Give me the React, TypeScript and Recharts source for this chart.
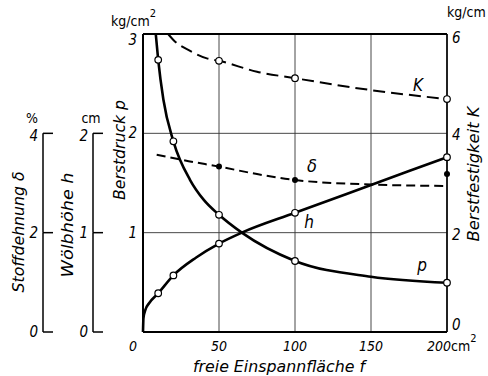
// @ts-nocheck
import React from 'react';
import { LineChart, Line, XAxis, YAxis, CartesianGrid, ReferenceLine } from 'recharts';

const W = 488;
const H = 376;
const TOP = 34;
const XAXIS_H = 44;
const PLOT_H = H - TOP - XAXIS_H;
const STEP = PLOT_H / 3;
const FONT = '"DejaVu Sans Condensed", "Liberation Sans Narrow", "DejaVu Sans", sans-serif';

// axis ids sort inner -> outer on the left side
const P_AX = 'a_p';
const H_AX = 'b_h';
const D_AX = 'c_d';
const K_AX = 'k';

const F_TICKS = [0, 50, 100, 150, 200];
const P_TICKS = [0, 1, 2, 3];
const K_TICKS = [0, 2, 4, 6];
const H_TICKS = [0, 1, 2];
const D_TICKS = [0, 2, 4];

// Berstdruck p, kg/cm²
const pF = [8.4, 10, 13.4, 20, 31, 40, 50, 65, 100, 150, 200];
const pV = [3.0, 2.74, 2.34, 1.92, 1.53, 1.33, 1.18, 1.0, 0.715, 0.557, 0.496];
const pMarks = [10, 20, 50, 100, 200];

// Wölbhöhe h, cm
const hF = [0, 0.3, 1.5, 4, 10, 20, 35, 50, 65, 100, 150, 200];
const hV = [0, 0.14, 0.22, 0.29, 0.39, 0.57, 0.75, 0.89, 1.0, 1.2, 1.48, 1.76];
const hMarks = [10, 20, 50, 100, 200];

// Stoffdehnung δ, %
const dF = [9, 30, 50, 75, 100, 150, 200];
const dV = [3.57, 3.44, 3.33, 3.18, 3.06, 2.97, 2.94];
const dMarks = [50, 100];
const dExtraF = [200];
const dExtraV = [3.18];

// Berstfestigkeit K, kg/cm
const kF = [16.5, 20, 31, 42, 50, 75, 100, 150, 200];
const kV = [6.0, 5.88, 5.66, 5.51, 5.46, 5.24, 5.11, 4.87, 4.69];
const kMarks = [50, 100, 200];

const rows = (fs, vs) => fs.map((f, i) => ({ f, v: vs[i] }));

const openDot = (marks) => (props) => {
  const { cx, cy, payload, index } = props;
  if (!marks.includes(payload.f)) return <g key={index} />;
  return <circle key={index} cx={cx} cy={cy} r={3.3} fill="#fff" stroke="#000" strokeWidth={1.2} />;
};

const fullDot = (marks) => (props) => {
  const { cx, cy, payload, index } = props;
  if (marks && !marks.includes(payload.f)) return <g key={index} />;
  return <circle key={index} cx={cx} cy={cy} r={3} fill="#000" stroke="none" />;
};

const num = { fontFamily: FONT, fontStyle: 'italic', fontSize: 15, fill: '#000' };
const unit = { fontFamily: FONT, fontSize: 14, fill: '#000' };

function PTick({ x, y, payload }) {
  const v = payload.value;
  if (v === 0) return <g />;
  return (
    <g>
      <text x={x - 6} y={y + 5 + (v === 3 ? 6 : 0)} textAnchor="end" {...num}>{v}</text>
      {v === 3 && (
        <text x={x - 32} y={y - 8} {...unit}>kg/cm<tspan dy={-9} fontSize={11}>2</tspan></text>
      )}
    </g>
  );
}

function KTick({ x, y, payload }) {
  const v = payload.value;
  const dy = v === 6 ? 4 : v === 0 ? -7 : 2;
  return (
    <g>
      <text x={x + 5} y={y + 5 + dy} textAnchor="start" {...num}>{v}</text>
      {v === 6 && <text x={x} y={y - 17} {...unit}>kg/cm</text>}
    </g>
  );
}

const bracketTick = (max, label, labelDx) => ({ x, y, payload }) => {
  const v = payload.value;
  return (
    <g>
      <line x1={x} x2={x + 10} y1={y} y2={y} stroke="#000" strokeWidth={1.5} />
      {v < max && <line x1={x} x2={x} y1={y} y2={y - STEP} stroke="#000" strokeWidth={1.5} />}
      <text x={x - 5} y={y + 5 + (v === max ? 3 : 0)} textAnchor="end" {...num}>{v}</text>
      {v === max && <text x={x + labelDx} y={y - 10} textAnchor="middle" {...unit}>{label}</text>}
    </g>
  );
};

function FTick({ x, y, payload }) {
  const v = payload.value;
  const tick = { ...num, fontSize: 14 };
  if (v === 200) {
    return (
      <g>
        <text x={x - 8} y={y + 19} textAnchor="middle" {...tick}>200</text>
        <text x={x + 4} y={y + 19} {...unit}>cm<tspan dy={-9} fontSize={11}>2</tspan></text>
      </g>
    );
  }
  return <text x={v === 0 ? x - 10 : x} y={y + 19} textAnchor="middle" {...tick}>{v}</text>;
}

const title = { fontFamily: FONT, fontStyle: 'italic', fontSize: 16, fill: '#000' };

function VTitle({ cx, cy, len, children }) {
  return (
    <text transform={`translate(${cx},${cy}) rotate(-90)`} textAnchor="middle" dominantBaseline="central"
      textLength={len} lengthAdjust="spacingAndGlyphs" {...title}>{children}</text>
  );
}

export default function App() {
  return (
    <div style={{ position: 'absolute', left: 0, top: 0, width: W, height: H, background: '#fff' }}>
      <LineChart width={W} height={H} margin={{ top: TOP, right: 0, bottom: 0, left: 0 }}>
        <CartesianGrid xAxisId="f" yAxisId={P_AX} stroke="#333" strokeWidth={0.9} />
        <XAxis xAxisId="f" dataKey="f" type="number" domain={[0, 200]} ticks={F_TICKS} height={XAXIS_H}
          axisLine={{ stroke: '#000', strokeWidth: 2 }} tickLine={false} tickSize={0} tickMargin={0} tick={FTick} />
        <YAxis yAxisId={P_AX} type="number" domain={[0, 3]} ticks={P_TICKS} width={50}
          axisLine={{ stroke: '#000', strokeWidth: 2 }} tickLine={false} tickSize={0} tickMargin={0} tick={PTick} />
        <YAxis yAxisId={H_AX} type="number" domain={[0, 3]} ticks={H_TICKS} width={50}
          axisLine={false} tickLine={false} tickSize={0} tickMargin={0} tick={bracketTick(2, 'cm', -2)} />
        <YAxis yAxisId={D_AX} type="number" domain={[0, 6]} ticks={D_TICKS} width={43}
          axisLine={false} tickLine={false} tickSize={0} tickMargin={0} tick={bracketTick(4, '%', -11)} />
        <YAxis yAxisId={K_AX} orientation="right" type="number" domain={[0, 6]} ticks={K_TICKS} width={41}
          axisLine={{ stroke: '#000', strokeWidth: 1.6 }} tickLine={false} tickSize={0} tickMargin={0} tick={KTick} />
        <ReferenceLine xAxisId="f" yAxisId={P_AX} y={3} stroke="#000" strokeWidth={2} />

        <Line xAxisId="f" yAxisId={K_AX} data={rows(kF, kV)} dataKey="v" type="monotone" stroke="#000"
          strokeWidth={2} strokeDasharray="12 6" dot={openDot(kMarks)} isAnimationActive={false} />
        <Line xAxisId="f" yAxisId={D_AX} data={rows(dF, dV)} dataKey="v" type="monotone" stroke="#000"
          strokeWidth={2} strokeDasharray="9 5" dot={fullDot(dMarks)} isAnimationActive={false} />
        <Line xAxisId="f" yAxisId={D_AX} data={rows(dExtraF, dExtraV)} dataKey="v" stroke="none"
          dot={fullDot(null)} isAnimationActive={false} />
        <Line xAxisId="f" yAxisId={H_AX} data={rows(hF, hV)} dataKey="v" type="monotone" stroke="#000"
          strokeWidth={2.6} dot={openDot(hMarks)} isAnimationActive={false} />
        <Line xAxisId="f" yAxisId={P_AX} data={rows(pF, pV)} dataKey="v" type="monotone" stroke="#000"
          strokeWidth={2.6} dot={openDot(pMarks)} isAnimationActive={false} />
      </LineChart>
      <svg width={W} height={H} style={{ position: 'absolute', left: 0, top: 0, pointerEvents: 'none' }}>
        <VTitle cx={18} cy={232} len={121}>Stoffdehnung δ</VTitle>
        <VTitle cx={67} cy={225} len={105}>Wölbhöhe h</VTitle>
        <VTitle cx={119} cy={150} len={100}>Berstdruck p</VTitle>
        <VTitle cx={473} cy={174} len={135}>Berstfestigkeit K</VTitle>
        <text x={279} y={372} textAnchor="middle" textLength={172} lengthAdjust="spacingAndGlyphs" {...title}>
          freie Einspannfläche f
        </text>
        <text x={418} y={91} textAnchor="middle" {...title} fontSize={17}>K</text>
        <text x={312} y={172} textAnchor="middle" {...title} fontSize={18}>δ</text>
        <text x={309} y={228} textAnchor="middle" {...title} fontSize={17}>h</text>
        <text x={422} y={271} textAnchor="middle" {...title} fontSize={17}>p</text>
      </svg>
    </div>
  );
}
